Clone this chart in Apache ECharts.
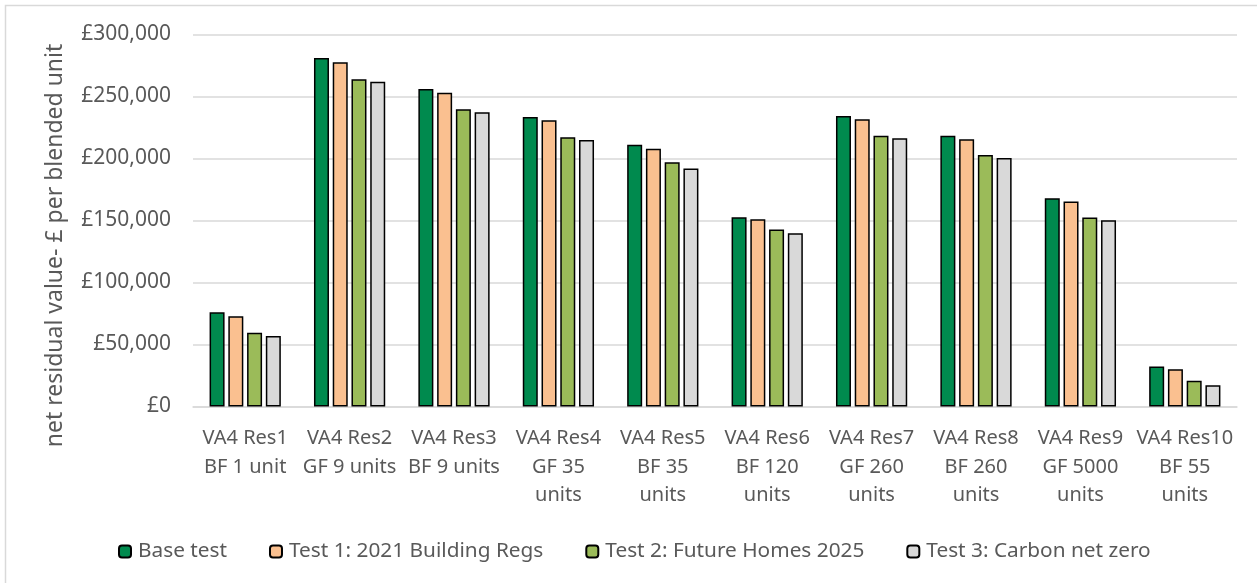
<!DOCTYPE html>
<html>
<head>
<meta charset="utf-8">
<script src="https://cdn.jsdelivr.net/npm/echarts@6/dist/echarts.min.js"></script>
<style>
  html, body { margin: 0; padding: 0; background: #fff; }
  #chart { width: 1257px; height: 583px; }
</style>
</head>
<body>
<div id="chart"></div>
<script>
// categories (schemes)
var categories = [
  'VA4 Res1\nBF 1 unit', 'VA4 Res2\nGF 9 units', 'VA4 Res3\nBF 9 units',
  'VA4 Res4\nGF 35\nunits', 'VA4 Res5\nBF 35\nunits', 'VA4 Res6\nBF 120\nunits',
  'VA4 Res7\nGF 260\nunits', 'VA4 Res8\nBF 260\nunits', 'VA4 Res9\nGF 5000\nunits',
  'VA4 Res10\nBF 55\nunits'
];
var seriesNames = ['Base test', 'Test 1: 2021 Building Regs', 'Test 2: Future Homes 2025', 'Test 3: Carbon net zero'];
var baseTest = [76000, 281000, 256000, 233500, 211000, 152700, 234300, 218400, 168000, 32300];
var test1 = [72700, 277700, 253100, 230800, 207900, 151100, 231600, 215500, 165400, 30100];
var test2 = [59500, 264000, 239700, 217100, 196900, 142700, 218400, 202800, 152500, 20800];
var test3 = [56800, 261800, 237300, 214900, 192000, 139800, 216300, 200400, 150300, 17200];
var colors = ['#008A4E', '#FAC090', '#9BBB59', '#D9D9D9'];

var chartDom = document.getElementById('chart');
var myChart = echarts.init(chartDom);

function makeSeries(i, data) {
  return {
    name: seriesNames[i],
    type: 'bar',
    barWidth: 15,
    barGap: '25%',
    itemStyle: { color: colors[i], borderColor: '#000', borderWidth: 1.5 },
    data: data
  };
}

var option = {
  animation: false,
  textStyle: { fontFamily: 'Noto Sans' },
  graphic: [{
    type: 'rect',
    shape: { x: 5.5, y: 5.5, width: 1262, height: 600 },
    style: { fill: 'none', stroke: '#d9d9d9', lineWidth: 1.5 },
    silent: true
  }],
  grid: { left: 193, right: 20, top: 34.5, bottom: 176.5 },
  legend: {
    left: 113,
    top: 536,
    itemWidth: 12,
    itemHeight: 12,
    itemGap: 42,
    textStyle: { fontSize: 20.8, color: '#595959', padding: [0, 0, 0, 2] },
    data: seriesNames
  },
  xAxis: {
    type: 'category',
    data: categories,
    axisTick: { show: false },
    axisLine: { lineStyle: { color: '#d9d9d9', width: 1.5 } },
    axisLabel: {
      interval: 0,
      margin: 18,
      fontSize: 20,
      lineHeight: 28.5,
      color: '#595959'
    }
  },
  yAxis: {
    type: 'value',
    min: 0,
    max: 300000,
    interval: 50000,
    name: 'net residual value- £ per blended unit',
    nameLocation: 'middle',
    nameGap: 126,
    nameTextStyle: { fontSize: 23, color: '#595959', padding: [0, 50, 0, 0] },
    axisLabel: {
      margin: 22,
      fontSize: 21,
      color: '#595959',
      formatter: function (v) { return '£' + v.toLocaleString('en-GB'); }
    },
    splitLine: { lineStyle: { color: '#d9d9d9', width: 1.5 } }
  },
  series: [
    makeSeries(0, baseTest),
    makeSeries(1, test1),
    makeSeries(2, test2),
    makeSeries(3, test3)
  ]
};
myChart.setOption(option);
</script>
</body>
</html>
